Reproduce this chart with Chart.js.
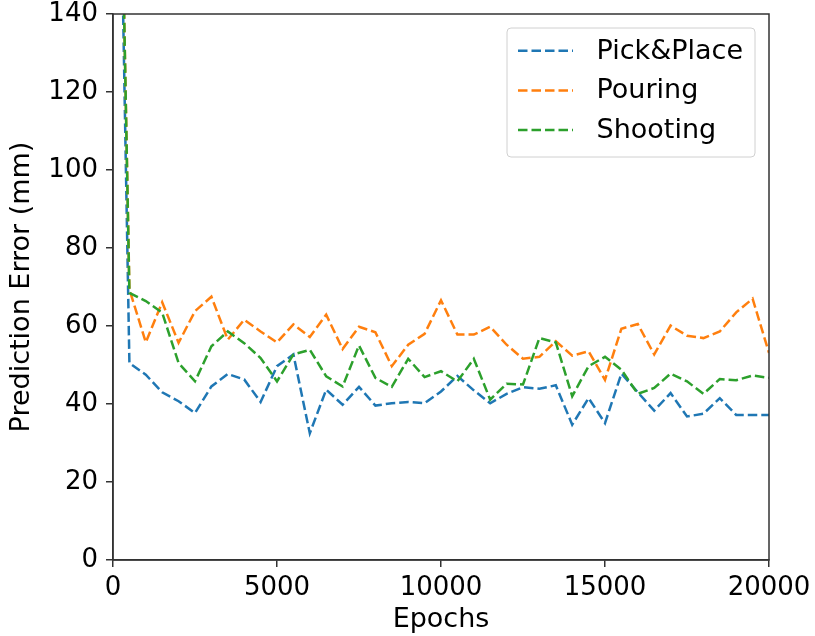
<!DOCTYPE html>
<html>
<head>
<meta charset="utf-8">
<script src="https://cdn.jsdelivr.net/npm/chart.js@4/dist/chart.umd.min.js"></script>
<style>
  html, body { margin: 0; padding: 0; background: #fff; }
  #wrap { width: 815px; height: 636px; }
</style>
</head>
<body>
<div id="wrap"><canvas id="lossChart" width="815" height="636"></canvas></div>
<script>
// Epochs (x values)
const epochs = [0, 500, 1000, 1500, 2000, 2500, 3000, 3500, 4000, 4500,
  5000, 5500, 6000, 6500, 7000, 7500, 8000, 8500, 9000, 9500,
  10000, 10500, 11000, 11500, 12000, 12500, 13000, 13500, 14000, 14500,
  15000, 15500, 16000, 16500, 17000, 17500, 18000, 18500, 19000, 19500, 20000];

// Prediction error (mm) per task
const pickPlace = [285, 50.5, 47.5, 43, 40.7, 37.7, 44.5, 47.7, 46.3, 40.5,
  49.7, 52.7, 32.5, 43.7, 39.8, 44.4, 39.6, 40.2, 40.5, 40.2,
  43.2, 47.2, 43.5, 40.2, 42.6, 44.3, 43.9, 44.8, 34.7, 41.5,
  35.1, 47.8, 43, 38.3, 42.8, 36.8, 37.5, 41.5, 37.2, 37.2, 37.2];
const pouring = [290, 69.4, 55.8, 66.1, 55.7, 63.8, 67.5, 56.5, 61.6, 58.6,
  55.8, 60.4, 57.2, 62.9, 54.1, 59.8, 58.4, 49.7, 55.2, 58,
  66.6, 57.8, 57.8, 59.8, 55.2, 51.6, 52.1, 56.1, 52.4, 53.5,
  46.2, 59.3, 60.5, 52.7, 60.1, 57.5, 56.9, 58.6, 63.5, 67, 53.1];
const shooting = [290, 68.5, 66.4, 63.4, 50.5, 45.8, 54.8, 58.6, 55.6, 51.8,
  45.8, 52.7, 53.9, 47.1, 44.5, 55, 46.7, 44.4, 51.6, 46.9,
  48.4, 45.8, 51.6, 41.1, 45.2, 45, 56.9, 55.8, 42, 49.7,
  52.1, 48.8, 42.6, 44.1, 47.8, 45.8, 42.6, 46.4, 46.1, 47.3, 46.7];

const seriesNames = ['Pick&Place', 'Pouring', 'Shooting'];
const seriesColors = ['#1f77b4', '#ff7f0e', '#2ca02c'];

const FONT = 'DejaVu Sans';
const DASH = [9.5, 4];
const AXIS = '#333';

const toPoints = vals => vals.map((v, i) => ({ x: epochs[i], y: v }));

// Top/right spines (matplotlib box)
const frame = {
  id: 'frame',
  afterDatasetsDraw(chart) {
    const { ctx, chartArea: a } = chart;
    ctx.save();
    ctx.strokeStyle = AXIS;
    ctx.lineWidth = 1.5;
    ctx.strokeRect(a.left, a.top, a.right - a.left, a.bottom - a.top);
    ctx.restore();
  }
};

// Legend box in upper right, drawn like matplotlib's
const boxLegend = {
  id: 'boxLegend',
  afterDraw(chart) {
    const { ctx, chartArea: a } = chart;
    const x0 = a.right - 262, y0 = a.top + 14, w = 248, h = 129;
    ctx.save();
    ctx.fillStyle = 'rgba(255,255,255,0.85)';
    ctx.strokeStyle = '#d0d0d0';
    ctx.lineWidth = 1;
    ctx.beginPath();
    ctx.roundRect(x0, y0, w, h, 4);
    ctx.fill();
    ctx.stroke();
    ctx.font = '27px "' + FONT + '"';
    ctx.textBaseline = 'middle';
    chart.data.datasets.forEach((ds, i) => {
      const y = y0 + 22.7 + i * 39.7;
      ctx.strokeStyle = ds.borderColor;
      ctx.lineWidth = 2.5;
      ctx.setLineDash(DASH);
      ctx.beginPath();
      ctx.moveTo(x0 + 11, y);
      ctx.lineTo(x0 + 66, y);
      ctx.stroke();
      ctx.setLineDash([]);
      ctx.fillStyle = '#000';
      ctx.fillText(ds.label, x0 + 89.5, y + 1);
    });
    ctx.restore();
  }
};

const ctx = document.getElementById('lossChart').getContext('2d');
new Chart(ctx, {
  type: 'line',
  data: {
    datasets: [pickPlace, pouring, shooting].map((vals, i) => ({
      label: seriesNames[i],
      data: toPoints(vals),
      borderColor: seriesColors[i],
      backgroundColor: seriesColors[i],
      borderWidth: 2.5,
      borderDash: DASH,
      pointRadius: 0,
      tension: 0,
      fill: false,
      order: 3 - i
    }))
  },
  options: {
    responsive: false,
    animation: false,
    devicePixelRatio: 1,
    layout: { padding: { left: 0, top: 14, right: 46, bottom: 0 } },
    plugins: {
      legend: { display: false },
      tooltip: { enabled: false }
    },
    scales: {
      x: {
        type: 'linear',
        min: 0,
        max: 20000,
        afterFit: s => { s.height = 76; s.paddingLeft = 0; s.paddingRight = 0; },
        ticks: {
          stepSize: 5000,
          color: '#000',
          padding: 6,
          maxRotation: 0,
          callback: v => String(v),
          font: { family: FONT, size: 26 }
        },
        grid: { drawOnChartArea: false, drawTicks: true, tickLength: 7, color: AXIS, lineWidth: 1.5 },
        border: { display: true, color: AXIS, width: 1.5 },
        title: {
          display: true,
          text: 'Epochs',
          color: '#000',
          font: { family: FONT, size: 27 },
          padding: { top: 0, bottom: 0 }
        }
      },
      y: {
        min: 0,
        max: 140,
        afterFit: s => { s.width = 113; s.paddingTop = 0; s.paddingBottom = 0; },
        ticks: {
          stepSize: 20,
          color: '#000',
          padding: 8,
          font: { family: FONT, size: 26 }
        },
        grid: { drawOnChartArea: false, drawTicks: true, tickLength: 7, color: AXIS, lineWidth: 1.5 },
        border: { display: true, color: AXIS, width: 1.5 },
        title: {
          display: true,
          text: 'Prediction Error (mm)',
          color: '#000',
          font: { family: FONT, size: 27 },
          padding: { top: 6, bottom: 0 }
        }
      }
    }
  },
  plugins: [frame, boxLegend]
});
</script>
</body>
</html>
